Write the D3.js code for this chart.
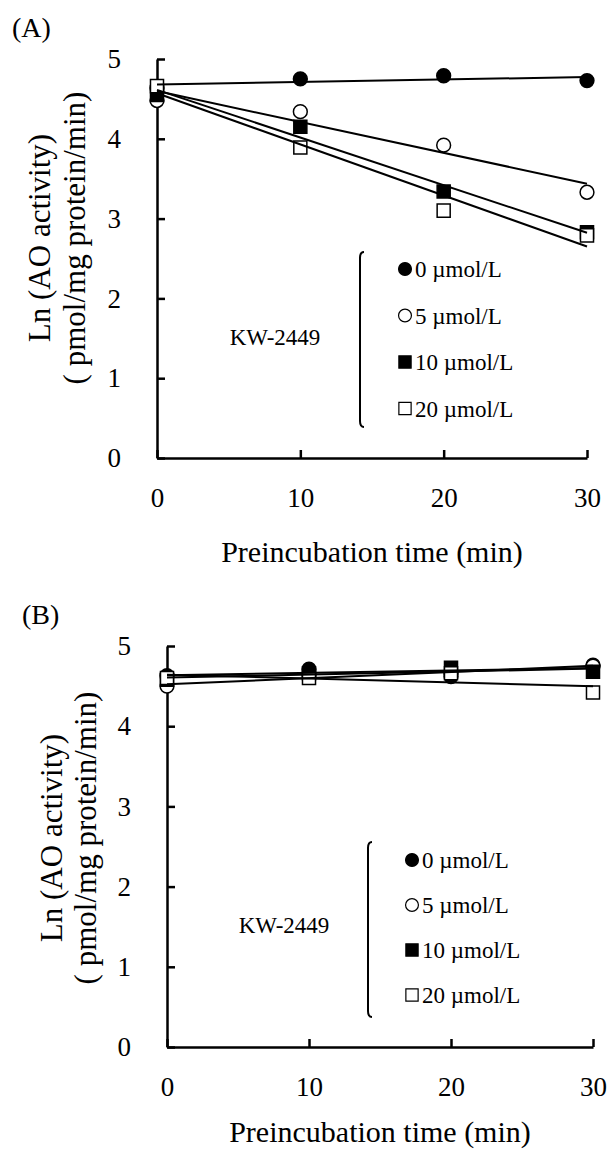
<!DOCTYPE html>
<html>
<head>
<meta charset="utf-8">
<script src="https://cdn.jsdelivr.net/npm/d3@7"></script>
<style>
  body { margin: 0; background: #fff; }
  svg { display: block; font-family: "Liberation Serif", "Times New Roman", serif; }
  .axis path, .axis line { stroke: #000; stroke-width: 2.5; }
  .axis text { font-family: "Liberation Serif", "Times New Roman", serif; font-size: 27px; fill: #000; }
</style>
</head>
<body>
<svg id="chart" width="611" height="1155"></svg>
<script>
// Data
const timePoints = [0, 10, 20, 30];
const doseLabels = ['0 µmol/L', '5 µmol/L', '10 µmol/L', '20 µmol/L'];
const xTicks = [0, 10, 20, 30];
const yTicks = [0, 1, 2, 3, 4, 5];
const drugName = 'KW-2449';

// Panel A: Ln activity per dose
const panelA0 = [4.64, 4.75, 4.79, 4.73];
const panelA5 = [4.48, 4.34, 3.92, 3.33];
const panelA10 = [4.55, 4.15, 3.34, 2.83];
const panelA20 = [4.66, 3.89, 3.10, 2.79];

// Panel B
const panelB0 = [4.63, 4.71, 4.62, 4.76];
const panelB5 = [4.50, 4.64, 4.66, 4.75];
const panelB10 = [4.58, 4.66, 4.73, 4.68];
const panelB20 = [4.60, 4.60, 4.66, 4.42];

// marker styles, same order as doseLabels
const markerShapes = [d3.symbolCircle, d3.symbolCircle, d3.symbolSquare, d3.symbolSquare];
const markerFills = ['#000', '#fff', '#000', '#fff'];

const svg = d3.select('#chart');

// least squares line for a series
const fitLine = (xs, ys) => {
  const mx = d3.mean(xs);
  const my = d3.mean(ys);
  const sxy = d3.sum(xs, (x, i) => (x - mx) * (ys[i] - my));
  const sxx = d3.sum(xs, (x) => (x - mx) ** 2);
  const slope = sxy / sxx;
  return { slope, intercept: my - slope * mx };
};

const drawPanel = (cfg) => {
  const x = d3.scaleLinear().domain([0, 30]).range([cfg.left, cfg.right]);
  const y = d3.scaleLinear().domain([0, 5]).range([cfg.bottom, cfg.top]);

  // panel letter
  svg.append('text')
    .attr('x', cfg.letterX)
    .attr('y', cfg.letterY)
    .style('font-size', '28px')
    .text(cfg.letter);

  // axes
  svg.append('g')
    .attr('class', 'axis')
    .attr('transform', `translate(0,${cfg.bottom})`)
    .call(d3.axisBottom(x).tickValues(xTicks).tickFormat(d3.format('d'))
      .tickSizeInner(-8).tickSizeOuter(0).tickPadding(30))
    .call((g) => g.selectAll('.tick text').attr('dy', '0.71em'));

  svg.append('g')
    .attr('class', 'axis')
    .attr('transform', `translate(${cfg.left},0)`)
    .call(d3.axisLeft(y).tickValues(yTicks).tickFormat(d3.format('d'))
      .tickSizeInner(-8).tickSizeOuter(0).tickPadding(36));

  // axis titles
  svg.append('text')
    .attr('x', (cfg.left + cfg.right) / 2)
    .attr('y', cfg.xTitleY)
    .attr('text-anchor', 'middle')
    .style('font-size', '30px')
    .text('Preincubation time (min)');

  const yt = svg.append('g')
    .attr('transform', `translate(0,${cfg.yTitleY}) rotate(-90)`);
  yt.append('text')
    .attr('x', 0)
    .attr('y', cfg.yTitleX1)
    .attr('text-anchor', 'middle')
    .style('font-size', '31px')
    .text('Ln (AO activity)');
  yt.append('text')
    .attr('x', 0)
    .attr('y', cfg.yTitleX2)
    .attr('text-anchor', 'middle')
    .style('font-size', '31px')
    .text('( pmol/mg protein/min)');

  // markers
  cfg.series.forEach((vals, i) => {
    const sym = d3.symbol().type(markerShapes[i]).size(i < 2 ? 150 : 170);
    svg.append('g')
      .selectAll('path')
      .data(vals)
      .enter()
      .append('path')
      .attr('d', sym)
      .attr('transform', (d, j) => `translate(${x(timePoints[j])},${y(d)})`)
      .attr('fill', markerFills[i])
      .attr('stroke', '#000')
      .attr('stroke-width', 1.5);
  });

  // trend lines
  cfg.series.forEach((vals) => {
    const f = fitLine(timePoints, vals);
    svg.append('line')
      .attr('x1', x(0))
      .attr('y1', y(f.intercept))
      .attr('x2', x(30))
      .attr('y2', y(f.intercept + f.slope * 30))
      .attr('stroke', '#000')
      .attr('stroke-width', 2);
  });

  // legend
  svg.append('text')
    .attr('x', cfg.kwX)
    .attr('y', cfg.kwY)
    .attr('text-anchor', 'middle')
    .style('font-size', '23px')
    .text(drugName);

  const bx = cfg.bracketX;
  svg.append('path')
    .attr('d', `M${bx + 4},${cfg.bracketTop} Q${bx},${cfg.bracketTop} ${bx},${cfg.bracketTop + 6}`
      + ` L${bx},${cfg.bracketBottom - 6} Q${bx},${cfg.bracketBottom} ${bx + 4},${cfg.bracketBottom}`)
    .attr('fill', 'none')
    .attr('stroke', '#000')
    .attr('stroke-width', 2);

  doseLabels.forEach((label, i) => {
    const ly = cfg.legendY + i * cfg.legendStep;
    svg.append('path')
      .attr('d', d3.symbol().type(markerShapes[i]).size(i < 2 ? 130 : 150))
      .attr('transform', `translate(${cfg.legendX},${ly})`)
      .attr('fill', markerFills[i])
      .attr('stroke', '#000')
      .attr('stroke-width', 1.2);
    svg.append('text')
      .attr('x', cfg.legendX + 10)
      .attr('y', ly + 8)
      .style('font-size', '23px')
      .text(label);
  });
};

drawPanel({
  letter: '(A)', letterX: 12, letterY: 37,
  left: 157, right: 587, top: 59, bottom: 458,
  xTitleY: 562, yTitleY: 238, yTitleX1: 50, yTitleX2: 85,
  series: [panelA0, panelA5, panelA10, panelA20],
  kwX: 275, kwY: 345,
  bracketX: 360, bracketTop: 252, bracketBottom: 427,
  legendX: 405, legendY: 269, legendStep: 46.5,
});

drawPanel({
  letter: '(B)', letterX: 22, letterY: 624,
  left: 167, right: 593, top: 646, bottom: 1047,
  xTitleY: 1142, yTitleY: 838, yTitleX1: 62, yTitleX2: 96,
  series: [panelB0, panelB5, panelB10, panelB20],
  kwX: 284, kwY: 933,
  bracketX: 368, bracketTop: 842, bracketBottom: 1017,
  legendX: 412, legendY: 860, legendStep: 45,
});
</script>
</body>
</html>
